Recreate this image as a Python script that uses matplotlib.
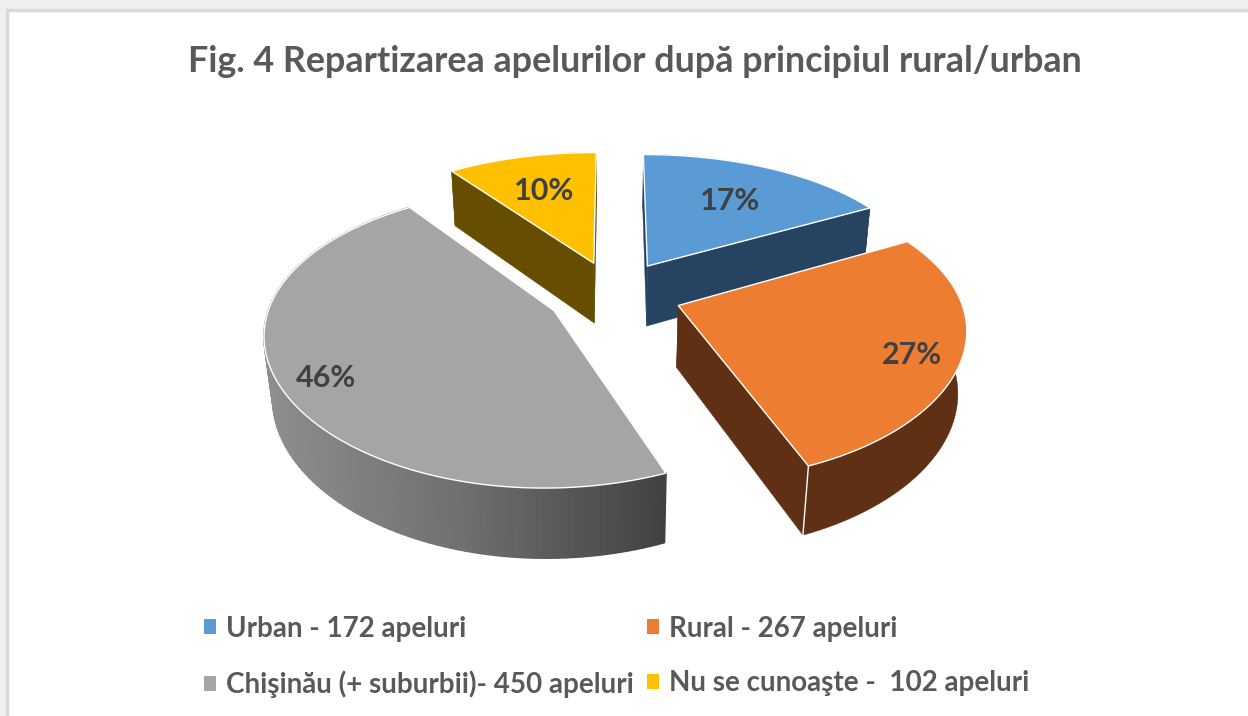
import numpy as np
import matplotlib
matplotlib.use("Agg")
import matplotlib.pyplot as plt
from matplotlib.collections import PolyCollection
from matplotlib.colors import LinearSegmentedColormap
from matplotlib.patches import Patch, Polygon, Rectangle

plt.rcParams['font.family'] = ['Lato', 'DejaVu Sans']

title = "Fig. 4 Repartizarea apelurilor după principiul rural/urban"
legend_labels = ["Urban - 172 apeluri", "Rural - 267 apeluri",
                 "Chişinău (+ suburbii)- 450 apeluri", "Nu se cunoaşte -  102 apeluri"]
shares = [17, 27, 46, 10]
pct_labels = ["17%", "27%", "46%", "10%"]
top_colors = ["#5b9bd5", "#ed7d31", "#a5a5a5", "#ffc000"]
wall_colors = ["#264461", "#5f3014", "#6e6e6e", "#664d00"]

# Layout of the drawing, in pixels of the picture
CX, CY = 614, 294
A, B = 281, 140
K_X = 0.14       # perspective along the depth of the disk, horizontal
K_Y = 0.175      # same, vertical
M = 0.025        # perspective between top and bottom face
DEPTH = 63
EXPLODE = 0.24
LABEL_XY = [(730, 201), (912, 355), (326, 378), (544, 191)]
TEXT_GREY = "#595959"
LABEL_GREY = "#404040"


# Disk coordinates to picture pixels, level is 0 on top and 1 on the bottom
def project(x, y, level=0.0):
    wx = 1 + K_X * y + M * level
    wy = 1 + K_Y * y + M * level
    return CX + A * x / wx, CY + (-B * y + DEPTH * level) / wy


def outline(start, stop, off_x, off_y, level=0.0):
    t = np.radians(np.linspace(start, stop, 120))
    px, py = project(off_x + np.sin(t), off_y + np.cos(t), level)
    return np.column_stack([px, py])


fig = plt.figure(figsize=(12.48, 7.16), dpi=100, facecolor="#f0f0f0")
ax = fig.add_axes([0, 0, 1, 1])
ax.set_xlim(0, 1248)
ax.set_ylim(716, 0)
ax.axis("off")

# Window frame behind the chart
ax.add_patch(Rectangle((7, 10), 1300, 800, fc="white", ec="#d9d9d9", lw=2.5, zorder=0))

edges = np.cumsum([0] + shares) * 3.6
grey_ramp = LinearSegmentedColormap.from_list("rim", ["#8e8e8e", "#6f6f6f", "#424242"])

# Back slices first so the front ones cover them
z = 1
for i in [3, 0, 2, 1]:
    start, stop = edges[i], edges[i + 1]
    mid = np.radians((start + stop) / 2)
    off_x, off_y = EXPLODE * np.sin(mid), EXPLODE * np.cos(mid)
    top_arc = outline(start, stop, off_x, off_y)
    bottom_arc = outline(start, stop, off_x, off_y, 1.0)
    apex_top = np.array(project(off_x, off_y))
    apex_bottom = np.array(project(off_x, off_y, 1.0))

    # Cut faces
    for k in [0, -1]:
        quad = [apex_top, top_arc[k], bottom_arc[k], apex_bottom]
        wall = "#424242" if i == 2 else wall_colors[i]
        ax.add_patch(Polygon(quad, fc=wall, ec=wall, lw=0.3, zorder=z))

    # Outer rim, the grey one is cut in small quads for its gradient
    if i == 2:
        quads = [[top_arc[j], top_arc[j + 1], bottom_arc[j + 1], bottom_arc[j]]
                 for j in range(len(top_arc) - 1)]
        xs = top_arc[:-1, 0]
        rim_colors = grey_ramp((xs - xs.min()) / (xs.max() - xs.min()))
        ax.add_collection(PolyCollection(quads, facecolors=rim_colors, edgecolors=rim_colors,
                                         linewidths=1.2, zorder=z))
    else:
        rim = np.vstack([top_arc, bottom_arc[::-1]])
        ax.add_patch(Polygon(rim, fc=wall_colors[i], ec=wall_colors[i], lw=0.3, zorder=z))

    face = np.vstack([apex_top, top_arc])
    ax.add_patch(Polygon(face, fc=top_colors[i], ec="white", lw=1.0, zorder=z + 0.5))
    if i == 1:
        ax.plot([top_arc[-1][0], bottom_arc[-1][0]], [top_arc[-1][1], bottom_arc[-1][1]],
                color="white", lw=1.0, zorder=z + 0.6)
    z += 1

for (lx, ly), text in zip(LABEL_XY, pct_labels):
    ax.text(lx, ly, text, ha="center", va="center", fontsize=22, fontweight="bold",
            color=LABEL_GREY, zorder=10)

ax.text(634.5, 61, title, ha="center", va="center", fontsize=25.8, fontweight="bold",
        color=TEXT_GREY, zorder=10)

handles = [Patch(facecolor=c, edgecolor="none") for c in top_colors]
order = [0, 2, 1, 3]
ax.legend([handles[i] for i in order], [legend_labels[i] for i in order],
          ncol=2, loc="upper left", bbox_to_anchor=(198 / 1248, 1 - 610 / 716),
          frameon=False, prop={"size": 20, "weight": "bold"}, labelcolor=TEXT_GREY,
          handlelength=0.45, handleheight=0.45, handletextpad=0.35,
          columnspacing=0.47, labelspacing=1.04, borderpad=0.2, borderaxespad=0)

fig.savefig("out.png", dpi=100, facecolor=fig.get_facecolor())
